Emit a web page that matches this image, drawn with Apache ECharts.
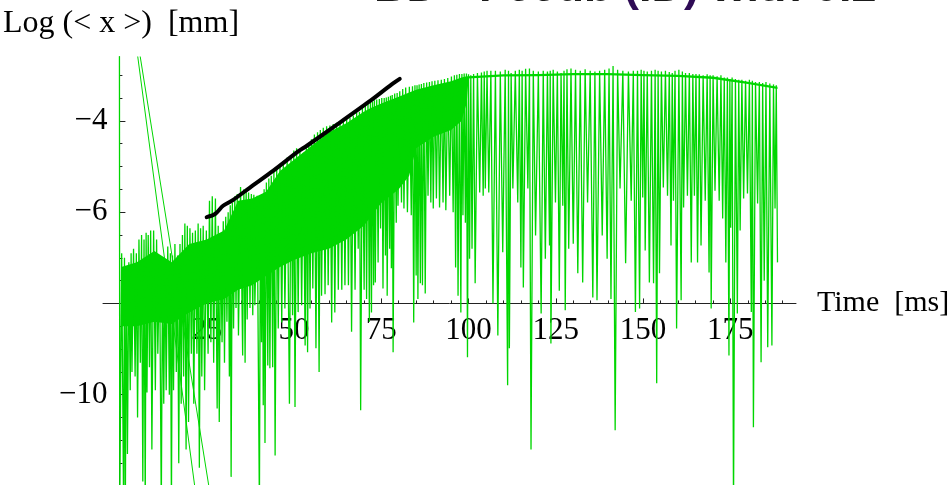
<!DOCTYPE html>
<html>
<head>
<meta charset="utf-8">
<title>Log &lt;x&gt; vs time</title>
<script src="https://cdn.jsdelivr.net/npm/echarts@6.0.0/dist/echarts.min.js"></script>
<style>
  html, body { margin: 0; padding: 0; background: #fff; }
  #chart { width: 952px; height: 485px; }
</style>
</head>
<body>
<div id="chart"></div>
<script>
  // each row: [time of dip (ms), log level of the peak before it, log level of the dip]
  var segA = [
    [0.1, -1.5, -12.5], [1.2, -6.9, -12.5], [1.7, -7.0, -12.5], [2.3, -7.2, -11.3],
    [3.1, -7.1, -9.9], [3.6, -6.9, -9.5], [4.5, -6.8, -9.6], [5.2, -6.9, -10.5],
    [6.0, -6.6, -9.3], [6.7, -6.5, -11.9], [7.4, -6.6, -12.5], [7.9, -6.45, -9.95],
    [8.6, -6.5, -9.4], [9.3, -6.4, -11.2], [10.3, -6.4, -9.9], [11.0, -6.6, -9.1],
    [12.0, -7.0, -12.5], [12.7, -7.2, -10.2], [13.4, -7.1, -9.9], [14.3, -6.75, -10.0],
    [14.9, -6.9, -12.5], [15.5, -6.95, -9.9], [16.3, -6.7, -9.5], [17.0, -6.95, -11.5],
    [17.7, -6.7, -10.2], [18.4, -6.5, -9.6], [19.1, -6.25, -11.2], [19.8, -6.3, -10.6],
    [20.6, -6.35, -9.1], [21.3, -6.45, -10.2], [22.2, -6.4, -9.1], [22.9, -6.25, -11.6],
    [23.6, -6.35, -9.6], [24.4, -6.3, -9.9], [25.4, -6.4, -9.1], [26.2, -5.75, -8.85],
    [27.0, -5.65, -9.3], [28.0, -5.7, -10.3], [28.6, -6.3, -10.6], [29.4, -6.5, -8.85],
    [30.1, -6.2, -9.3], [30.8, -6.1, -8.4], [31.5, -6.0, -9.6], [32.0, -5.85, -11.8],
    [32.7, -5.8, -8.55], [33.4, -5.65, -8.1], [34.1, -5.6, -8.7]
  ];
  var segB = [
    [35.3, -5.45, -9.14], [36.0, -5.5, -9.3], [36.6, -5.55, -8.35], [37.4, -5.57, -8.1],
    [38.2, -5.6, -8.26], [38.8, -5.62, -8.04], [40.1, -5.64, -12.5], [40.7, -5.7, -8.85],
    [41.2, -5.6, -10.23], [41.7, -5.5, -11.06], [42.5, -5.35, -9.36], [43.1, -5.26, -9.42],
    [43.9, -5.2, -9.4], [44.6, -5.1, -11.33], [45.5, -5.0, -8.55], [46.5, -4.95, -8.42],
    [47.4, -4.88, -8.11], [48.7, -4.8, -10.2], [49.6, -4.75, -8.26], [50.3, -4.65, -10.27],
    [51.2, -4.6, -8.19], [52.2, -4.62, -8.04], [53.2, -4.7, -8.92], [53.9, -4.6, -9.07],
    [54.6, -4.5, -8.11], [55.4, -4.4, -7.67], [56.3, -4.3, -8.98], [57.2, -4.25, -9.5],
    [57.9, -4.2, -7.83], [58.9, -4.15, -7.8], [59.8, -4.12, -7.6], [60.8, -4.1, -8.42],
    [61.7, -4.07, -8.2], [62.7, -4.04, -7.7], [63.7, -4.0, -7.7], [64.6, -3.97, -7.6],
    [65.6, -3.95, -7.6], [66.5, -3.93, -8.62], [67.5, -3.88, -7.7], [68.4, -3.82, -6.8],
    [69.1, -3.8, -10.34], [70.1, -3.72, -7.7], [70.8, -3.65, -7.9], [71.6, -3.6, -8.4]
  ];
  var segC = [
    [72.2, -3.6, -8.2], [72.8, -3.58, -7.6], [73.3, -3.55, -7.54], [74.1, -3.53, -7.1],
    [74.8, -3.52, -6.36], [75.5, -3.5, -7.67], [76.2, -3.5, -6.95], [76.7, -3.49, -7.83],
    [77.4, -3.47, -6.8], [77.9, -3.45, -7.23], [78.4, -3.43, -9.07], [79.3, -3.4, -6.23],
    [79.8, -3.39, -5.86], [80.8, -3.35, -5.79], [81.5, -3.3, -5.92], [82.5, -3.27, -6.0],
    [83.6, -3.25, -6.07], [84.3, -3.24, -8.42], [85.0, -3.22, -7.39], [85.5, -3.22, -7.9],
    [86.2, -3.2, -7.56], [86.8, -3.19, -7.6], [87.6, -3.17, -7.78], [88.4, -3.16, -5.64],
    [89.2, -3.15, -5.79], [89.9, -3.13, -5.92], [90.8, -3.12, -5.7], [91.7, -3.11, -5.9],
    [92.7, -3.1, -5.79], [93.5, -3.08, -5.96], [94.6, -3.06, -5.64], [95.6, -3.03, -6.0],
    [96.3, -3.0, -7.21], [97.0, -2.99, -7.83], [97.8, -2.97, -8.2], [98.4, -2.97, -6.07],
    [99.1, -2.96, -6.23], [99.7, -2.96, -9.18], [100.3, -2.98, -7.02], [101.0, -3.0, -6.8],
    [101.9, -2.97, -7.56], [103.2, -2.95, -5.57], [104.2, -2.94, -5.64], [104.8, -2.92, -5.48],
    [105.8, -2.9, -5.57], [107.0, -2.9, -8.0]
  ];
  var segD = [
    [108.4, -2.9, -8.7], [109.8, -2.92, -6.88], [111.2, -2.88, -9.79], [111.7, -2.9, -8.98],
    [112.7, -2.95, -5.48], [114.1, -2.9, -5.79], [115.0, -2.88, -7.21], [115.7, -2.9, -7.65],
    [117.0, -2.86, -5.48], [117.9, -2.85, -11.2], [119.2, -2.9, -6.51], [120.8, -2.92, -8.22],
    [122.0, -2.9, -7.02], [123.2, -2.92, -6.73], [123.6, -2.9, -8.88], [124.9, -2.88, -5.79],
    [126.0, -2.92, -7.72], [127.0, -2.95, -5.86], [127.7, -2.9, -8.15], [128.7, -2.87, -6.8],
    [130.0, -2.85, -6.69], [131.3, -2.88, -7.34], [132.7, -2.9, -7.54], [134.1, -2.87, -5.79],
    [135.6, -2.9, -7.87], [136.8, -2.92, -7.93], [138.3, -2.9, -6.51], [139.7, -2.88, -7.02],
    [140.8, -2.85, -7.9], [142.0, -2.8, -10.78], [143.4, -2.88, -5.48], [145.0, -2.9, -7.12],
    [146.6, -2.92, -5.75], [147.8, -2.9, -8.19], [149.0, -2.9, -8.11], [149.9, -2.88, -5.68]
  ];
  var segE = [
    [150.6, -2.9, -6.84], [151.8, -2.92, -7.54], [153.0, -2.9, -7.56], [153.9, -2.88, -9.75],
    [154.7, -2.9, -7.34], [155.8, -2.92, -5.46], [157.0, -2.9, -5.64], [158.0, -2.93, -6.73],
    [158.7, -2.95, -5.75], [159.6, -2.9, -8.55], [160.9, -2.88, -7.93], [161.6, -2.92, -5.9],
    [162.7, -2.95, -5.64], [163.8, -2.95, -7.1], [164.7, -2.97, -5.64], [165.6, -2.97, -7.1],
    [166.6, -2.98, -6.73], [167.8, -3.0, -5.75], [168.9, -2.98, -7.32], [169.5, -3.0, -8.11],
    [170.6, -3.0, -5.53], [171.8, -3.02, -5.75], [172.8, -3.0, -6.14], [173.7, -3.05, -7.1],
    [174.6, -3.05, -9.14], [175.1, -3.08, -6.34], [175.9, -3.05, -12.5], [177.0, -3.08, -8.22],
    [177.8, -3.1, -6.4], [178.8, -3.1, -5.7], [179.9, -3.12, -5.59], [181.0, -3.1, -8.19],
    [181.6, -3.12, -10.71], [182.8, -3.15, -5.81], [183.8, -3.15, -9.29], [184.7, -3.17, -7.5],
    [185.7, -3.15, -8.96], [186.9, -3.18, -8.92], [187.8, -3.2, -5.92], [188.5, -3.22, -7.1]
  ];

  // solid part of the trace, where the oscillation is too dense to resolve
  var bandTime = [0.5, 5, 10, 15, 20, 25, 30, 34, 38, 42, 46, 50, 55, 60, 65, 70, 72, 75, 80, 83, 85, 90, 95, 98, 99.5,
                  100, 110, 120, 130, 140, 150, 160, 170, 180, 188.5];
  var bandTop = [-7.2, -7.1, -6.85, -7.1, -6.7, -6.6, -6.4, -5.75, -5.7, -5.55, -5.1, -4.85, -4.55, -4.25, -4.05, -3.8,
                 -3.72, -3.62, -3.47, -3.38, -3.32, -3.22, -3.13, -3.05, -3.02,
                 -3.02, -2.98, -2.97, -2.95, -2.95, -2.97, -2.99, -3.03, -3.14, -3.25];
  var bandLow = [-8.5, -8.5, -8.4, -8.45, -8.2, -8.0, -7.9, -7.7, -7.6, -7.4, -7.2, -7.05, -6.9, -6.8, -6.6, -6.3,
                 -6.1, -5.8, -5.5, -5.2, -4.6, -4.35, -4.2, -4.0, -3.6,
                 -3.07, -3.03, -3.02, -3.0, -3.0, -3.02, -3.04, -3.08, -3.19, -3.3];

  // the two stray samples running off the plot range near t = 0
  var strayTime = [23.3, 1.8, 27.7];
  var strayLog = [-13.0, -0.6, -13.0];

  // black guide line drawn over the rise
  var fitTime = [25.0, 27.4, 29.7, 32.6, 37.4, 44.1, 51.2, 53.6, 62.0, 71.5, 78.0, 80.3];
  var fitLog = [-6.11, -6.04, -5.86, -5.73, -5.46, -5.09, -4.67, -4.55, -4.1, -3.58, -3.2, -3.08];

  var xMajor = [25, 50, 75, 100, 125, 150, 175];
  var xMinor = [5, 10, 15, 20, 30, 35, 40, 45, 55, 60, 65, 70, 80, 85, 90, 95, 105, 110, 115, 120,
                130, 135, 140, 145, 155, 160, 165, 170, 180, 185, 190];
  var yMajor = [-10, -6, -4];
  var yMinor = [-11.5, -11, -10.5, -9.5, -9, -8.5, -7.5, -7, -6.5, -5.5, -5, -4.5, -3.5, -3];

  // plot range and the point where the two axes cross
  var xMin = -4.7, xMax = 193.8;
  var yMin = -12, yMax = -2.6;
  var xCross = 0, yCross = -8;

  var gridBox = { left: 103, right: 156, top: 57, bottom: -1 };
  var plotW = 952 - gridBox.left - gridBox.right;
  var plotH = 485 - gridBox.top - gridBox.bottom;
  // move the axes from the grid edges to the crossing point
  var xAxisOffset = -plotH * (yCross - yMin) / (yMax - yMin);
  var yAxisOffset = -plotW * (xCross - xMin) / (xMax - xMin);

  var green = '#00d600';
  var serif = '"Liberation Serif", "Times New Roman", serif';

  var rows = segA.concat(segB, segC, segD, segE);
  var trace = [];
  rows.forEach(function (r, i) {
    var tPrev = i ? rows[i - 1][0] : r[0] - 0.2;
    trace.push([(tPrev + r[0]) / 2, r[1]]);
    trace.push([r[0], r[2]]);
  });
  var stray = strayTime.map(function (t, i) { return [t, strayLog[i]]; });
  var fit = fitTime.map(function (t, i) { return [t, fitLog[i]]; });

  var tickStyle = { color: '#222' };
  var myChart = echarts.init(document.getElementById('chart'));
  var option = {
    animation: false,
    backgroundColor: '#fff',
    grid: {
      left: gridBox.left,
      right: gridBox.right,
      top: gridBox.top,
      bottom: gridBox.bottom,
      containLabel: false,
      outerBoundsMode: 'none'
    },
    graphic: [
      {
        type: 'text',
        left: 3,
        top: 8,
        style: {
          text: 'Log (< x >)  [mm]',
          font: '32px ' + serif,
          fill: '#000'
        }
      },
      {
        // slide heading above the plot, cut off by the frame
        type: 'text',
        x: 374,
        y: -11,
        style: {
          text: '{d|BD - Feedb }{p|(}{d|ID}{p|)}{d| with 0.2}',
          verticalAlign: 'middle',
          rich: {
            d: { fontSize: 45, fontWeight: 'bold', fontFamily: '"Liberation Sans", Arial, sans-serif', fill: '#1b1b1b', color: '#1b1b1b' },
            p: { fontSize: 45, fontWeight: 'bold', fontFamily: '"Liberation Sans", Arial, sans-serif', fill: '#2e0b55', color: '#2e0b55' }
          }
        }
      }
    ],
    xAxis: [
      {
        type: 'value',
        position: 'bottom',
        min: xMin,
        max: xMax,
        offset: xAxisOffset,
        name: 'Time  [ms]',
        nameLocation: 'end',
        nameGap: 21,
        nameTextStyle: { fontFamily: serif, fontSize: 30, color: '#000', verticalAlign: 'middle' },
        axisLine: { onZero: false, lineStyle: { color: '#222', width: 1 } },
        axisTick: { inside: true, length: 5, customValues: xMajor, lineStyle: tickStyle },
        axisLabel: { customValues: xMajor, margin: 12, fontFamily: serif, fontSize: 31, color: '#000' },
        splitLine: { show: false }
      },
      {
        type: 'value',
        position: 'bottom',
        min: xMin,
        max: xMax,
        offset: xAxisOffset,
        axisLine: { show: false, onZero: false },
        axisTick: { inside: true, length: 3, customValues: xMinor, lineStyle: tickStyle },
        axisLabel: { show: false },
        splitLine: { show: false }
      }
    ],
    yAxis: [
      {
        type: 'value',
        position: 'left',
        min: yMin,
        max: yMax,
        offset: yAxisOffset,
        axisLine: { onZero: false, lineStyle: { color: '#222', width: 1 } },
        axisTick: { inside: true, length: 6, customValues: yMajor, lineStyle: tickStyle },
        axisLabel: {
          customValues: yMajor,
          margin: 12,
          fontFamily: serif,
          fontSize: 31,
          color: '#000',
          formatter: function (v) {
            return '\u2212' + Math.abs(Math.round(v));
          }
        },
        splitLine: { show: false }
      },
      {
        type: 'value',
        position: 'left',
        min: yMin,
        max: yMax,
        offset: yAxisOffset,
        axisLine: { show: false, onZero: false },
        axisTick: { inside: true, length: 3, customValues: yMinor, lineStyle: tickStyle },
        axisLabel: { show: false },
        splitLine: { show: false }
      }
    ],
    series: [
      {
        name: 'core',
        type: 'custom',
        clip: true,
        silent: true,
        data: [[0, yCross]],
        renderItem: function (params, api) {
          var pts = [];
          for (var i = 0; i < bandTime.length; i++) {
            pts.push(api.coord([bandTime[i], bandTop[i]]));
          }
          for (var j = bandTime.length - 1; j >= 0; j--) {
            pts.push(api.coord([bandTime[j], bandLow[j]]));
          }
          return { type: 'polygon', shape: { points: pts }, style: { fill: green } };
        }
      },
      {
        name: 'Log <x>',
        type: 'line',
        data: trace,
        symbol: 'none',
        clip: true,
        silent: true,
        lineStyle: { color: green, width: 1.3 }
      },
      {
        name: 'stray',
        type: 'line',
        data: stray,
        symbol: 'none',
        clip: true,
        silent: true,
        lineStyle: { color: green, width: 1 }
      },
      {
        name: 'guide',
        type: 'line',
        data: fit,
        symbol: 'none',
        smooth: 0.3,
        silent: true,
        lineStyle: { color: '#000', width: 4, cap: 'round', join: 'round' }
      }
    ]
  };
  myChart.setOption(option);
</script>
</body>
</html>
